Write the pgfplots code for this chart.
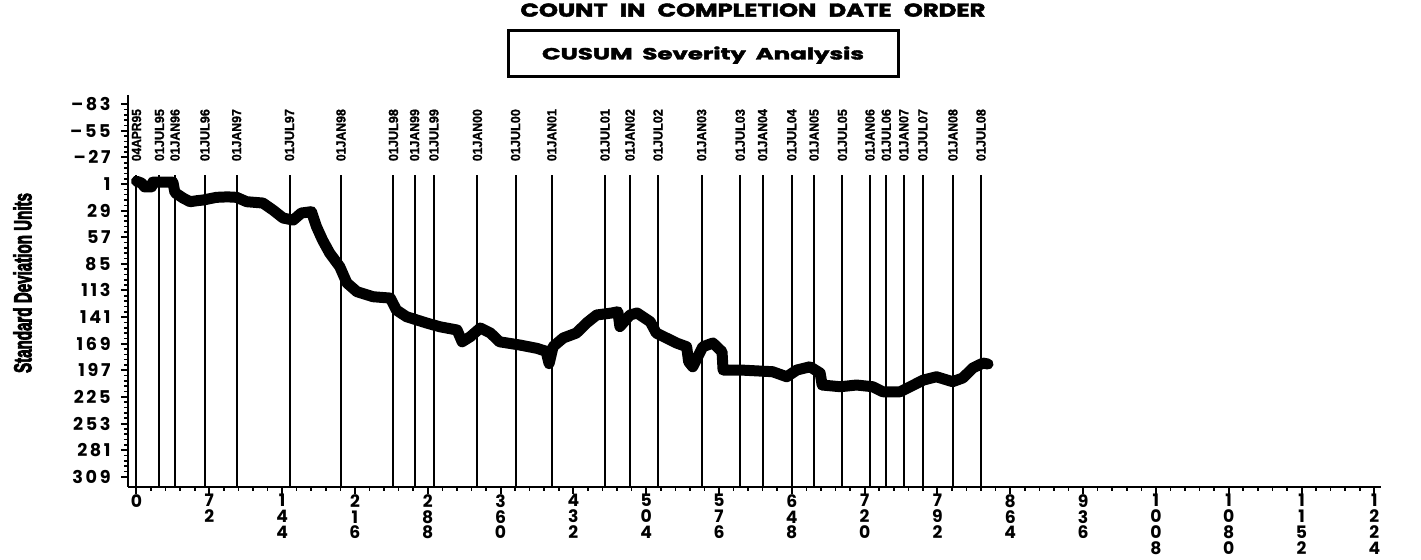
\documentclass[border=0pt]{standalone}
\usepackage{fontspec}
\usepackage{pgfplots}
\usepackage{pgfplotstable}
\pgfplotsset{compat=1.18}
\setmainfont{Liberation Sans}
\newfontfamily\tickfont[LetterSpace=15]{Poppins}
\newfontfamily\widefont[BoldFeatures={FakeBold=2}]{Poppins}
\newfontfamily\heavyfont[BoldFeatures={FakeBold=4}]{Liberation Sans}
\newfontfamily\narrowfont[BoldFeatures={FakeBold=1.2}]{Liberation Sans}

\pgfplotstableread{
x v
0 -2
5 0
8 4
15 4
16 -1
25 -1
36 -1
38 10
46 15.7
53 19.6
60 18.5
66 17.8
79 15
90 14.5
99 15
109 19.6
125 21
135 28.4
145 36.8
155 38.9
163 31.5
173 30.1
178 45.9
184 60
191 73.6
201 88
208 105
218 114.3
234 119.6
251 121
257 133.6
267 140.6
287 147.3
300 151.2
317 154.6
322 167
330 161.7
340 152.5
350 157.8
359 167
379 170.4
396 173.9
405 177
408 190
412 172
422 163
435 157.8
445 147.3
455 138.8
470 136.7
476 135.4
478 151
488 138.8
495 136.7
508 145.9
514 157.8
524 163
534 168.3
544 172.2
546 188
550 193.3
560 172.2
570 168.3
579 177.5
580 196.7
597 196.7
629 198.5
643 203.8
653 196.7
666 193.3
676 199.9
678 212.5
696 214.3
712 212.5
728 214.3
738 219.6
755 219.6
765 214.3
778 207.3
791 203.8
807 209
817 205.1
827 194.6
837 189.4
842 190.4
}\cusum

\pgfplotstableread{
x lab
0 04APR95
22.7 01JUL95
38.1 01JAN96
67.7 01JUL96
99 01JAN97
151.3 01JUL97
202.2 01JAN98
254.1 01JUL98
275 01JAN99
294.1 01JUL99
337.1 01JAN00
374.8 01JUL00
410.7 01JAN01
463.3 01JUL01
488 01JAN02
515.7 01JUL02
558.8 01JAN03
597 01JUL03
619.1 01JAN04
647.9 01JUL04
670 01JAN05
698 01JUL05
725.3 01JAN06
741.4 01JUL06
758.7 01JAN07
777.5 01JUL07
807.3 01JAN08
835.1 01JUL08
}\dates

\begin{document}
\begin{tikzpicture}[x=1pt,y=1pt]
\useasboundingbox (0,0) rectangle (710.5,280);
\begin{axis}[
  at={(377.25pt,134.5pt)}, anchor=center,
  scale only axis, width=626.5pt, height=196pt,
  xmin=-8.4, xmax=1230.6, ymin=-92.7, ymax=319.8,
  y dir=reverse,
  axis x line*=bottom, axis y line*=left,
  axis line style={line width=1pt},
  tick align=outside,
  major tick length=3.5pt, minor tick length=2pt,
  every tick/.style={black, line width=1pt},
  minor tick style={line width=0.8pt},
  xtick={0,72,...,1224},
  xticklabels={0,{7\\2},{1\\4\\4},{2\\1\\6},{2\\8\\8},{3\\6\\0},{4\\3\\2},{5\\0\\4},{5\\7\\6},{6\\4\\8},{7\\2\\0},{7\\9\\2},{8\\6\\4},{9\\3\\6},{1\\0\\0\\8},{1\\0\\8\\0},{1\\1\\5\\2},{1\\2\\2\\4}},
  minor x tick num=4,
  ytick={-83,-55,...,309},
  yticklabels={\textendash83,\textendash55,\textendash27,1,29,57,85,113,141,169,197,225,253,281,309},
  minor y tick num=4,
  yticklabel style={font=\fontsize{8.8}{10}\selectfont\tickfont\bfseries, inner sep=0pt, xshift=-5pt},
  xticklabel style={font=\fontsize{8.6}{7.9}\selectfont\tickfont\bfseries, align=center, inner sep=0pt, anchor=north, yshift=0pt},
  clip=false,
]
\addplot[quiver={u=0,v=328.3}, black, line width=1pt] table[x=x, y expr=-8.5] {\dates};
\addplot[only marks, mark=*, mark size=0pt, mark options={draw=none,fill=none},
  point meta=explicit symbolic,
  nodes near coords={\resizebox{26pt}{4.6pt}{\narrowfont\bfseries\pgfplotspointmeta}},
  every node near coord/.append style={rotate=90, anchor=west, inner sep=0pt, black}]
  table[x=x, y expr=-22.7, meta=lab] {\dates};
\addplot[black, line width=5.5pt, line join=round, line cap=round] table[x=x,y=v] {\cusum};
\end{axis}
\node[anchor=base west, inner sep=0pt] at (260,271.65) {\resizebox{232.5pt}{6.67pt}{\widefont\bfseries COUNT\hspace{0.5em}IN\hspace{0.5em}COMPLETION\hspace{0.5em}DATE\hspace{0.5em}ORDER}};
\draw[line width=1.5pt] (254,241.5) rectangle (449,264.5);
\node[anchor=base, inner sep=0pt] at (351.5,250.25) {\resizebox{161pt}{6.5pt}{\widefont\bfseries CUSUM\hspace{0.4em}Severity\hspace{0.4em}Analysis}};
\node[rotate=90, inner sep=0pt] at (11.25,138.5) {\resizebox{90pt}{9pt}{\heavyfont\bfseries Standard Deviation Units}};
\end{tikzpicture}
\end{document}
